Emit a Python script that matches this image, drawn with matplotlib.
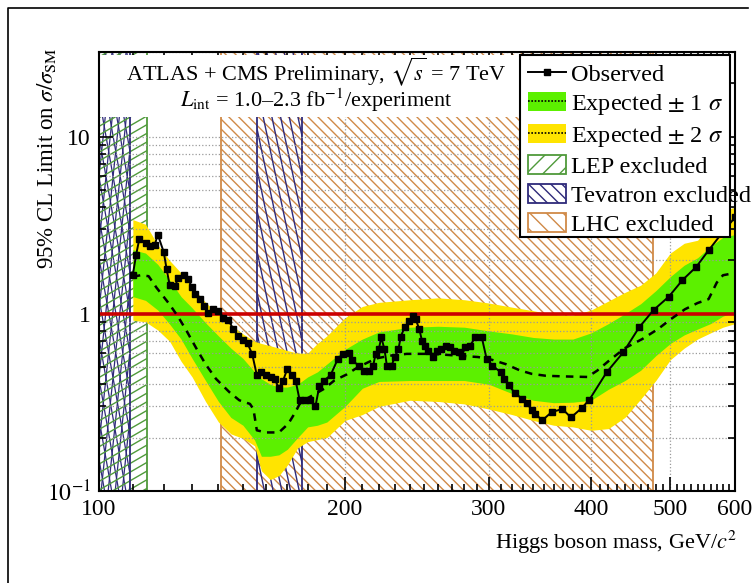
import numpy as np
import matplotlib
matplotlib.use("Agg")
import matplotlib.pyplot as plt
from matplotlib.patches import Rectangle, Patch
from matplotlib.lines import Line2D
from matplotlib.collections import LineCollection
from matplotlib.ticker import FixedLocator, FixedFormatter, NullFormatter

plt.rcParams['font.family'] = 'Liberation Serif'
plt.rcParams['mathtext.fontset'] = 'stix'
plt.rcParams['hatch.linewidth'] = 1.0

# observed limit
obs_mass = [110, 111, 112, 114, 115.5, 117, 118, 120, 121, 122, 124, 125, 127, 128.5, 130, 131, 133, 134.5,
            136, 138, 140, 142, 144, 146, 148, 150, 152, 154, 156, 158, 160, 162.5, 164, 166, 168, 170, 172,
            174, 176, 178.5, 181, 184, 186, 188.5, 192, 196, 199, 202, 204, 208, 211, 214, 216.5, 218, 220,
            221.5, 223.5, 225, 228, 230, 232.5, 234, 236.5, 239.5, 242, 244, 246.5, 248.5, 250.5, 253, 256,
            259, 262, 265.5, 269, 272, 275.5, 278, 280.5, 284.5, 288.5, 294, 298, 303, 310, 313, 317, 323,
            329, 334, 338.5, 342, 348.5, 358, 369, 378, 390, 398, 418, 438, 458, 477, 498, 517.5, 538, 557,
            580, 600]
obs_vals = [1.66, 2.14, 2.63, 2.52, 2.41, 2.44, 2.8, 2.23, 1.78, 1.46, 1.44, 1.6, 1.65, 1.57, 1.41, 1.29,
            1.21, 1.11, 1.01, 1.07, 1.04, 0.95, 0.92, 0.82, 0.75, 0.71, 0.68, 0.59, 0.45, 0.47, 0.45, 0.44,
            0.43, 0.38, 0.42, 0.49, 0.45, 0.42, 0.325, 0.325, 0.325, 0.30, 0.39, 0.42, 0.45, 0.557, 0.594,
            0.60, 0.545, 0.51, 0.474, 0.478, 0.51, 0.594, 0.633, 0.736, 0.63, 0.51, 0.51, 0.568, 0.633,
            0.743, 0.838, 0.905, 0.974, 0.934, 0.82, 0.70, 0.66, 0.62, 0.573, 0.62, 0.633, 0.66, 0.646,
            0.62, 0.606, 0.58, 0.646, 0.66, 0.736, 0.736, 0.557, 0.51, 0.468, 0.43, 0.394, 0.357, 0.332,
            0.313, 0.285, 0.273, 0.25, 0.279, 0.29, 0.26, 0.295, 0.327, 0.468, 0.606, 0.838, 1.05, 1.25,
            1.55, 1.84, 2.28, 2.9, 3.5]

# expected (median)
exp_mass = [110, 112.5, 115, 117.5, 122, 125, 128, 131.5, 135, 139, 144.5, 148.5, 153, 154.5, 156, 160,
            166, 170.5, 174, 176, 181, 188.5, 194, 201, 206, 213, 218.5, 227, 238, 256, 275.5, 291, 302.5,
            314.5, 327, 338.5, 352, 372, 396, 407, 420, 440, 462, 483, 501, 521, 540, 557, 570, 580, 600]
exp_vals = [1.62, 1.65, 1.63, 1.41, 1.13, 0.96, 0.80, 0.64, 0.52, 0.43, 0.36, 0.325, 0.31, 0.29,
            0.22, 0.214, 0.214, 0.24, 0.28, 0.31, 0.339, 0.377, 0.42, 0.455, 0.49, 0.53, 0.56, 0.58,
            0.594, 0.594, 0.58, 0.57, 0.55, 0.52, 0.48, 0.458, 0.447, 0.443, 0.44, 0.478, 0.54, 0.64,
            0.72, 0.82, 0.934, 1.06, 1.15, 1.21, 1.5, 1.65, 1.7]

# +-1 sigma and +-2 sigma bands
band_mass = [110, 114, 118, 122, 126, 130, 135, 140, 145, 150, 155, 158, 162, 166, 170, 175, 180, 185, 190,
             200, 210, 220, 240, 260, 280, 300, 320, 340, 360, 380, 400, 420, 440, 460, 480, 500, 520, 540,
             560, 580, 600]
one_hi = [2.3, 2.2, 1.9, 1.55, 1.25, 1.08, 0.89, 0.75, 0.64, 0.56, 0.47, 0.43, 0.40, 0.386, 0.386, 0.40,
          0.44, 0.47, 0.52, 0.63, 0.72, 0.79, 0.84, 0.85, 0.84, 0.80, 0.77, 0.735, 0.72, 0.72, 0.78, 0.88,
          1.0, 1.14, 1.35, 1.62, 1.88, 2.07, 2.4, 2.7, 2.8]
one_lo = [1.25, 1.19, 1.05, 0.875, 0.72, 0.56, 0.42, 0.32, 0.26, 0.235, 0.194, 0.157, 0.157, 0.16, 0.172,
          0.20, 0.23, 0.235, 0.245, 0.30, 0.38, 0.415, 0.42, 0.42, 0.42, 0.40, 0.355, 0.325, 0.315, 0.317,
          0.325, 0.375, 0.42, 0.48, 0.58, 0.68, 0.76, 0.82, 0.88, 0.97, 1.02]
two_hi = [3.4, 3.2, 2.45, 2.0, 1.7, 1.42, 1.16, 1.0, 0.87, 0.77, 0.70, 0.68, 0.66, 0.64, 0.62, 0.60, 0.60,
          0.68, 0.75, 0.95, 1.1, 1.16, 1.2, 1.23, 1.2, 1.15, 1.09, 1.04, 0.99, 0.98, 1.05, 1.18, 1.32, 1.45,
          1.7, 2.2, 2.5, 2.6, 3.2, 3.8, 4.0]
two_lo = [0.92, 0.90, 0.81, 0.70, 0.54, 0.44, 0.32, 0.245, 0.21, 0.198, 0.18, 0.13, 0.116, 0.122, 0.14,
          0.175, 0.19, 0.195, 0.20, 0.25, 0.27, 0.30, 0.325, 0.32, 0.31, 0.29, 0.27, 0.25, 0.235, 0.23,
          0.22, 0.225, 0.26, 0.33, 0.42, 0.55, 0.64, 0.72, 0.78, 0.84, 0.88]

# excluded mass ranges
lep_range = (100, 114.4)
tev_ranges = [(100, 109), (156, 177)]
lhc_range = (141, 476)

x_major = [100, 200, 300, 400, 500, 600]
x_minor = [m for m in range(110, 600, 10) if m % 100 != 0]
y_major = [0.1, 1, 10]
y_labels = [r'$10^{-1}$', '1', '10']

YMIN, YMAX = 0.1, 30
W, H = 755, 583
AW, AH = 636, 439

green = '#5cf000'
yellow = '#ffe400'
c_lep = '#4f9a3a'
c_tev = '#2e2a7a'
c_lhc = '#d08a48'

fig = plt.figure(figsize=(7.55, 5.83), dpi=100)
ax = fig.add_axes([99 / W, 1 - 491 / H, AW / W, AH / H])
ax.set_xscale('log')
ax.set_yscale('log')
ax.set_xlim(100, 600)
ax.set_ylim(YMIN, YMAX)


def hatch(x0, x1, color, angles, step, lw=1.0, border=1.3):
    rect = Rectangle((x0, YMIN), x1 - x0, YMAX - YMIN, facecolor='none', edgecolor=color, lw=border, zorder=1.2)
    ax.add_patch(rect)
    L = np.hypot(AW, AH)
    for ang in angles:
        t = np.deg2rad(ang)
        d = np.array([np.cos(t), np.sin(t)])
        n = np.array([-np.sin(t), np.cos(t)])
        segs = []
        for k in np.arange(-L, L, step):
            c = np.array([AW / 2, AH / 2]) + k * n
            p0, p1 = c - L * d, c + L * d
            segs.append([(p0[0] / AW, p0[1] / AH), (p1[0] / AW, p1[1] / AH)])
        lc = LineCollection(segs, colors=color, lw=lw, transform=ax.transAxes, zorder=1)
        ax.add_collection(lc, autolim=False)
        lc.set_clip_path(rect)


hatch(*lhc_range, c_lhc, [-45], 7)
hatch(*tev_ranges[1], c_tev, [-78], 8.5)
hatch(*tev_ranges[0], c_tev, [-80, 84], 7, lw=0.9)
hatch(*lep_range, c_lep, [30], 7.5)

ax.fill_between(band_mass, two_lo, two_hi, color=yellow, lw=0, zorder=2)
ax.fill_between(band_mass, one_lo, one_hi, color=green, lw=0, zorder=2.1)

ax.set_axisbelow(False)
ax.grid(which='major', axis='x', color='#9a9a9a', ls=':', lw=0.9)
ax.grid(which='both', axis='y', color='#9a9a9a', ls=':', lw=0.9)

ax.axhline(1, color='#cc0000', lw=2.6, zorder=4)
ax.plot(exp_mass, exp_vals, color='black', lw=1.8, dashes=(3, 2.5), zorder=5)
ax.plot(obs_mass, obs_vals, color='black', lw=1.4, marker='s', ms=5, zorder=6)

# white box behind the header text
ax.add_patch(Rectangle((0, 0.852), 0.662, 0.141, transform=ax.transAxes, facecolor='white',
                       edgecolor='none', zorder=3))
ax.text(0.341, 0.955, r'ATLAS + CMS Preliminary, $\sqrt{s}$ = 7 TeV', transform=ax.transAxes,
        ha='center', va='center', fontsize=16, zorder=4)
ax.text(0.341, 0.889, r'$L_{\rm int}$ = 1.0–2.3 fb$^{-1}$/experiment', transform=ax.transAxes,
        ha='center', va='center', fontsize=16, zorder=4)

ax.xaxis.set_major_locator(FixedLocator(x_major))
ax.xaxis.set_major_formatter(FixedFormatter([str(v) for v in x_major]))
ax.xaxis.set_minor_locator(FixedLocator(x_minor))
ax.xaxis.set_minor_formatter(NullFormatter())
ax.yaxis.set_major_locator(FixedLocator(y_major))
ax.yaxis.set_major_formatter(FixedFormatter(y_labels))
ax.tick_params(which='both', direction='in', top=True, right=True, labelsize=17, width=1.2, pad=6)
ax.tick_params(which='major', length=10)
ax.tick_params(which='minor', length=5)
for s in ax.spines.values():
    s.set_linewidth(1.5)
    s.set_zorder(7)

# legend frame drawn by hand so that a long label may run past it
ax.add_patch(Rectangle((0.662, 0.579), 0.330, 0.414, transform=ax.transAxes, facecolor='white',
                       edgecolor='black', lw=1.5, zorder=9))
handles = [
    Line2D([], [], color='black', lw=1.4, marker='s', ms=4),
    (Patch(facecolor=green, lw=0), Line2D([], [], color='black', lw=1.2, ls=(0, (1, 1)))),
    (Patch(facecolor=yellow, lw=0), Line2D([], [], color='black', lw=1.2, ls=(0, (1, 1)))),
    Patch(facecolor='white', edgecolor=c_lep, hatch='//', lw=1.3),
    Patch(facecolor='white', edgecolor=c_tev, hatch='\\\\\\', lw=1.3),
    Patch(facecolor='white', edgecolor=c_lhc, hatch='\\\\', lw=1.3),
]
labels = ['Observed', r'Expected $\pm$ 1 $\sigma$', r'Expected $\pm$ 2 $\sigma$', 'LEP excluded',
          'Tevatron excluded', 'LHC excluded']
leg = ax.legend(handles, labels, loc='upper left', bbox_to_anchor=(0.6745, 0.975), fontsize=17.5,
                frameon=False, handlelength=1.56, handleheight=0.82, handletextpad=0.2,
                labelspacing=0.26, borderpad=0, borderaxespad=0)
leg.set_zorder(10)

fig.text(47 / W, 1 - 47 / H, r'95% CL Limit on $\sigma/\sigma_{\rm SM}$', rotation=90, ha='center',
         va='top', fontsize=16.5)
fig.text(737 / W, 1 - 542 / H, r'Higgs boson mass, GeV/$c^2$', ha='right', va='center', fontsize=16)

# outer frame (left and top)
fig.add_artist(Line2D([8 / W, 8 / W, 748 / W], [0, 1 - 8 / H, 1 - 8 / H], transform=fig.transFigure,
                      color='black', lw=1.2))

fig.savefig('out.png', dpi=100)
